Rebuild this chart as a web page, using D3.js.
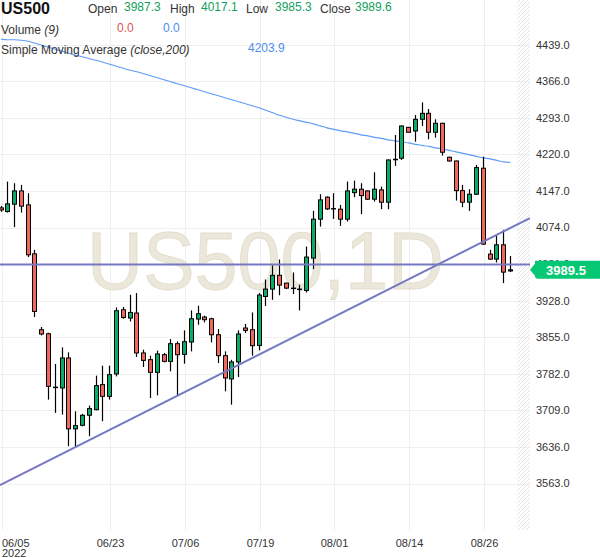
<!DOCTYPE html>
<html><head><meta charset="utf-8">
<script src="https://cdn.jsdelivr.net/npm/d3@7"></script>
<style>
body{margin:0;background:#fff;}
svg{display:block;font-family:"Liberation Sans",Arial,sans-serif;}
</style>
</head><body>
<svg id="chart" width="600" height="558"></svg>
<script>
// ---------------- data ----------------
const symbol = "US500";
const opens = [4113.2,4105.9,4120.6,4147.1,4119.2,4021.5,3870.0,3862.0,3755.4,3753.8,3813.6,3672.1,3679.2,3699.2,3710.5,3760.4,3737.0,3781.7,3909.9,3893.3,3903.3,3823.6,3810.2,3784.9,3820.2,3806.8,3842.1,3820.8,3845.5,3891.3,3895.3,3891.9,3860.0,3818.2,3771.7,3805.6,3873.4,3870.0,3838.7,3936.4,3951.1,3978.7,3963.1,3953.1,3951.1,3948.4,4013.0,4090.7,4134.6,4111.8,4110.6,4090.7,4143.7,4150.5,4147.1,4130.6,4149.1,4124.6,4210.3,4212.3,4274.1,4266.7,4290.1,4302.0,4264.2,4282.1,4214.3,4206.9,4147.7,4124.6,4140.5,4192.4,4020.9,4011.0,4039.5,3987.3];
const highs = [4117.2,4165.7,4162.5,4159.1,4142.5,4029.5,3875.4,3864.0,3801.6,3834.7,3824.8,3707.1,3702.0,3718.5,3778.3,3798.2,3798.2,3914.5,3915.3,3939.8,3943.2,3830.1,3818.2,3828.2,3823.6,3851.5,3846.7,3868.6,3908.5,3917.9,3898.0,3894.0,3871.4,3826.8,3810.0,3868.6,3881.4,3904.5,3943.2,3970.3,3998.6,4010.2,3963.7,3984.3,3959.7,4036.1,4107.3,4140.5,4136.2,4142.5,4119.2,4165.7,4167.7,4162.5,4148.0,4184.4,4155.7,4209.9,4258.8,4277.7,4274.7,4298.6,4324.0,4310.6,4290.1,4283.3,4215.5,4207.5,4159.1,4150.5,4199.0,4215.5,4029.5,4057.4,4069.4,4017.1];
const lows = [4105.3,4103.9,4074.8,4103.9,4015.0,3895.3,3858.6,3730.5,3704.0,3700.6,3637.4,3636.2,3677.2,3657.3,3709.1,3687.2,3730.5,3776.9,3891.9,3886.5,3815.6,3795.7,3733.9,3739.0,3804.8,3786.9,3738.4,3802.2,3826.8,3880.0,3884.6,3844.7,3803.6,3747.0,3720.5,3775.7,3863.4,3818.2,3828.7,3917.3,3929.8,3938.8,3951.1,3941.2,3908.5,3944.4,3991.0,4076.0,4109.2,4091.3,4077.3,4085.9,4134.6,4100.7,4129.2,4125.8,4110.6,4110.6,4197.0,4209.0,4263.8,4245.4,4276.7,4250.2,4253.4,4217.5,4205.5,4127.8,4114.6,4107.3,4139.1,4039.5,4009.6,4004.2,3963.1,3985.3];
const closes = [4109.2,4121.2,4147.1,4116.6,4019.5,3906.5,3861.4,3757.0,3754.4,3813.6,3672.1,3678.6,3699.2,3712.5,3758.4,3737.0,3780.3,3907.9,3894.5,3904.5,3823.6,3808.8,3784.9,3821.6,3806.8,3842.1,3820.2,3846.1,3891.9,3901.9,3890.0,3860.0,3818.2,3773.7,3805.6,3861.4,3868.6,3838.1,3939.2,3951.1,3978.7,3959.1,3953.1,3952.1,3950.1,4015.0,4090.7,4129.2,4111.2,4111.2,4090.7,4147.1,4150.5,4137.8,4130.6,4150.5,4124.6,4208.9,4209.3,4276.7,4264.2,4290.1,4302.0,4264.2,4282.1,4224.3,4206.9,4147.7,4124.6,4140.5,4193.6,4040.9,4011.0,4039.5,3985.0,3989.6];
const sma200 = [4450,4449,4449,4448,4446,4442,4438,4434,4430,4426,4422,4418,4415,4411,4408,4404,4400,4396,4392,4388,4385,4381,4377,4373,4369,4365,4361,4357,4353,4349,4345,4341,4337,4333,4329,4325,4321,4317,4313,4308,4303,4298,4294,4290,4287,4284,4281,4277,4273,4270,4267,4265,4262,4259,4257,4254,4252,4249,4247,4245,4243,4240,4238,4236,4233,4231,4228,4225,4222,4219,4216,4213,4211,4208,4205,4203.9];
const yTicks = [3563,3636,3709,3782,3855,3928,4001,4074,4147,4220,4293,4366,4439];
const xTickIndex = [0,16,27,38,49,60,71];
const xTickLabels = ["06/05","06/23","07/06","07/19","08/01","08/14","08/26"];
const yearLabel = "2022";
const trendIdx = [0,75];
const trendPrice = [3560.6,4073.2];
const hLinePrice = 4000;
const lastPriceLabel = 3989.5;
const headerOHLC = [["Open","3987.3"],["High","4017.1"],["Low","3985.3"],["Close","3989.6"]];
const volumeVals = ["0.0","0.0"];
const smaVal = "4203.9";

// ---------------- layout ----------------
const W = 600, H = 558;
const plotR = 530, plotB = 530;
const svg = d3.select("#chart");
const xs = d3.scaleLinear().domain([0,75]).range([1.0,510.5]);
const ys = d3.scaleLinear().domain([3563,4439]).range([483.5,44.7]);

const GREEN = "#0caa68", RED = "#f2675b";

svg.append("rect").attr("width",W).attr("height",H).attr("fill","#fff");

const defs = svg.append("defs");
defs.append("clipPath").attr("id","plotclip").append("rect")
  .attr("x",0).attr("y",0).attr("width",plotR).attr("height",plotB);
const pat = defs.append("pattern").attr("id","hatch").attr("patternUnits","userSpaceOnUse")
  .attr("width",4).attr("height",4);
pat.append("path").attr("d","M-1,1 l2,-2 M0,4 l4,-4 M3,5 l2,-2")
  .attr("stroke","#e4e4e4").attr("stroke-width",1);

// gridlines
const grid = svg.append("g");
grid.selectAll("line.h").data(yTicks).join("line")
  .attr("x1",0).attr("x2",plotR)
  .attr("y1",d=>Math.round(ys(d))+0.5).attr("y2",d=>Math.round(ys(d))+0.5)
  .attr("stroke","#efefef").attr("stroke-width",1);
grid.selectAll("line.v").data(xTickIndex).join("line")
  .attr("y1",0).attr("y2",plotB)
  .attr("x1",d=>Math.floor(xs(d))+1.5).attr("x2",d=>Math.floor(xs(d))+1.5)
  .attr("stroke","#efefef").attr("stroke-width",1);

// hatched future area
svg.append("rect").attr("x",517).attr("y",0).attr("width",13).attr("height",plotB)
  .attr("fill","url(#hatch)");

// watermark
svg.append("text").attr("x",87).attr("y",288.5)
  .attr("font-size",81).attr("textLength",357).attr("lengthAdjust","spacingAndGlyphs")
  .attr("fill","#ebe7da").attr("stroke","#e2ddcc").attr("stroke-width",0.8)
  .text(symbol + ",1D");

const plot = svg.append("g").attr("clip-path","url(#plotclip)");

// SMA line
plot.append("path").datum(sma200)
  .attr("d",d3.line().x((d,i)=>xs(i)).y(d=>ys(d)).curve(d3.curveMonotoneX))
  .attr("fill","none").attr("stroke","#5d9cf5").attr("stroke-width",1.1);

// candles
const idx = d3.range(opens.length);
const cg = plot.append("g");
cg.selectAll("line.wick").data(idx).join("line")
  .attr("x1",i=>Math.floor(xs(i))+0.5).attr("x2",i=>Math.floor(xs(i))+0.5)
  .attr("y1",i=>ys(highs[i])).attr("y2",i=>ys(lows[i]))
  .attr("stroke","#000").attr("stroke-width",1.2);
cg.selectAll("rect.body").data(idx).join("rect")
  .attr("x",i=>Math.floor(xs(i))-1.5).attr("width",4)
  .attr("y",i=>ys(Math.max(opens[i],closes[i])))
  .attr("height",i=>Math.max(0.4,Math.abs(ys(opens[i])-ys(closes[i]))))
  .attr("fill",i=>closes[i]>=opens[i]?GREEN:RED)
  .attr("stroke","#000").attr("stroke-width",1);

// drawings
const slope = (trendPrice[1]-trendPrice[0])/(trendIdx[1]-trendIdx[0]);
const i0 = xs.invert(0), i1 = xs.invert(plotR);
const tl = [[i0, trendPrice[0]+slope*(i0-trendIdx[0])],[i1, trendPrice[0]+slope*(i1-trendIdx[0])]];
plot.append("path").datum(tl)
  .attr("d",d3.line().x(d=>xs(d[0])).y(d=>ys(d[1])))
  .attr("stroke","#7679c2").attr("stroke-width",2).attr("fill","none");
plot.append("line").attr("x1",0).attr("x2",plotR)
  .attr("y1",ys(hLinePrice)).attr("y2",ys(hLinePrice))
  .attr("stroke","#7679c2").attr("stroke-width",2);

// header
const hdr = svg.append("g").attr("font-size",12).attr("fill","#333");
hdr.append("text").attr("x",1).attr("y",14).attr("font-size",16).attr("font-weight","bold")
  .attr("fill","#111").text(symbol);
const hx = [[88,124],[170,201],[246,275],[320,355]];
headerOHLC.forEach((d,k)=>{
  hdr.append("text").attr("x",hx[k][0]).attr("y",13).text(d[0]);
  hdr.append("text").attr("x",hx[k][1]).attr("y",11).attr("fill","#12a05c").text(d[1]);
});
const vol = hdr.append("text").attr("x",1).attr("y",34);
vol.append("tspan").text("Volume ");
vol.append("tspan").attr("font-style","italic").text("(9)");
hdr.append("text").attr("x",117).attr("y",32).attr("fill","#e0524f").text(volumeVals[0]);
hdr.append("text").attr("x",163).attr("y",32).attr("fill","#4d8ef0").text(volumeVals[1]);
const sm = hdr.append("text").attr("x",1).attr("y",54);
sm.append("tspan").text("Simple Moving Average ");
sm.append("tspan").attr("font-style","italic").text("(close,200)");
hdr.append("text").attr("x",248).attr("y",52).attr("fill","#4d8ef0").text(smaVal);

// y axis labels
svg.append("g").selectAll("text").data(yTicks).join("text")
  .attr("x",536).attr("y",d=>ys(d)).attr("dy","0.35em")
  .attr("font-size",11).attr("fill","#333")
  .text(d=>d3.format(".1f")(d));

// x axis labels
svg.append("g").selectAll("text").data(xTickIndex).join("text")
  .attr("x",(d,k)=>k===0?2:Math.floor(xs(d))+1.5)
  .attr("text-anchor",(d,k)=>k===0?"start":"middle")
  .attr("y",546.5).attr("font-size",11).attr("fill","#333")
  .text((d,k)=>xTickLabels[k]);
svg.append("text").attr("x",2).attr("y",557).attr("font-size",11).attr("fill","#333").text(yearLabel);

// last price label
const ly = ys(lastPriceLabel);
svg.append("path")
  .attr("d",`M530,${ly} L535,${ly-6} L535,${ly-9} Q535,${ly-9} 538,${ly-9} L600,${ly-9} L600,${ly+9} L538,${ly+9} Q535,${ly+9} 535,${ly+6} Z`)
  .attr("fill","#06c774");
svg.append("text").attr("x",566).attr("y",ly).attr("dy","0.36em")
  .attr("text-anchor","middle").attr("font-size",13).attr("font-weight","bold")
  .attr("fill","#fff").text(d3.format(".1f")(lastPriceLabel));
</script>
</body></html>
